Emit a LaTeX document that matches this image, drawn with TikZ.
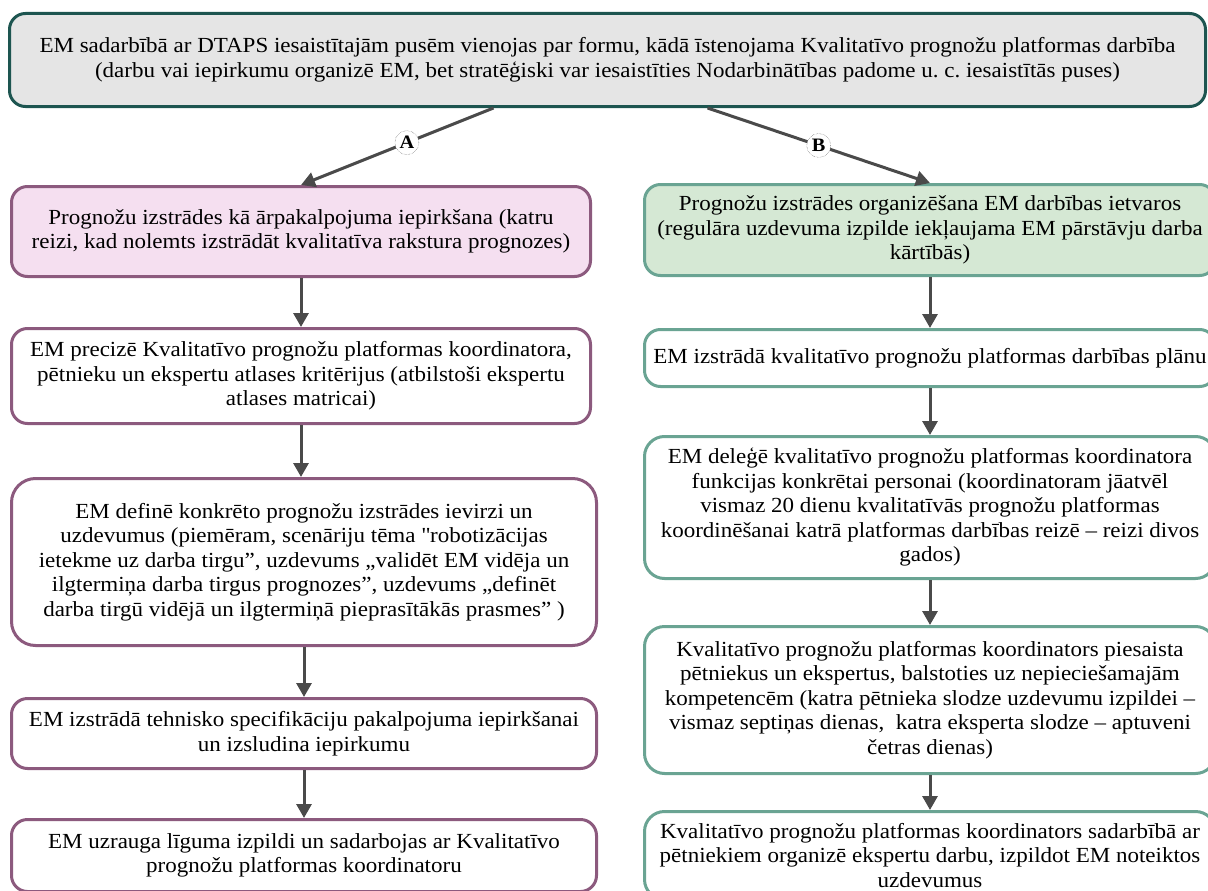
\documentclass[tikz,border=0pt]{standalone}
\usepackage{fontspec}
\setmainfont{Liberation Serif}[FakeStretch=1.07]
\usetikzlibrary{positioning,arrows.meta}
\frenchspacing
\definecolor{topfill}{HTML}{E5E5E5}
\definecolor{topdraw}{HTML}{1D5550}
\definecolor{leftfill}{HTML}{F5DFF0}
\definecolor{leftdraw}{HTML}{8C5A7E}
\definecolor{rightfill}{HTML}{D5E8D4}
\definecolor{rightdraw}{HTML}{6AA493}
\definecolor{arrowgray}{HTML}{4A4A4A}
\tikzset{
    base-box/.style = {rectangle, rounded corners=16pt, line width=3pt, align=center, inner sep=2pt, font=\fontsize{21.5}{24.5}\selectfont},
    top-box/.style = {base-box, draw=topdraw, fill=topfill},
    left-box/.style = {base-box, draw=leftdraw, fill=white, minimum width=579pt},
    left-head/.style = {left-box, fill=leftfill},
    right-box/.style = {base-box, draw=rightdraw, fill=white, minimum width=571pt},
    right-head/.style = {right-box, fill=rightfill},
    flow-arrow/.style = {draw=arrowgray, line width=3pt, -{Triangle[length=14pt,width=15pt]}},
    branch-label/.style = {circle, draw=arrowgray, densely dotted, thin, fill=white, inner sep=1pt, minimum size=24pt, font=\bfseries\fontsize{19}{19}\selectfont},
}

\begin{document}
\begin{tikzpicture}[x=1pt, y=1pt]
\useasboundingbox (0,0) rectangle (1208,-891);
\clip (0,0) rectangle (1208,-891);
\node [top-box, minimum width=1196pt, minimum height=93pt] (top) at (607.5,-60) {EM sadarbībā ar DTAPS iesaistītajām pusēm vienojas par formu, kādā īstenojama Kvalitatīvo prognožu platformas darbība\\(darbu vai iepirkumu organizē EM, bet stratēģiski var iesaistīties Nodarbinātības padome u. c. iesaistītās puses)};

% A: iepirkums
\node [left-head, minimum height=90pt] (a1) at (301,-231.5) {Prognožu izstrādes kā ārpakalpojuma iepirkšana (katru\\reizi, kad nolemts izstrādāt kvalitatīva rakstura prognozes)};
\node [left-box, minimum height=95pt, below=49pt of a1] (a2) {EM precizē Kvalitatīvo prognožu platformas koordinatora,\\pētnieku un ekspertu atlases kritērijus (atbilstoši ekspertu\\atlases matricai)};
\node [left-box, minimum width=585pt, minimum height=167pt, rounded corners=24pt, below=52pt of a2, xshift=3pt] (a3) {EM definē konkrēto prognožu izstrādes ievirzi un\\uzdevumus (piemēram, scenāriju tēma \textquotedbl robotizācijas\\ietekme uz darba tirgu”, uzdevums „validēt EM vidēja un\\ilgtermiņa darba tirgus prognozes”, uzdevums „definēt\\darba tirgū vidējā un ilgtermiņā pieprasītākās prasmes” )};
\node [left-box, minimum width=585pt, minimum height=70pt, below=50pt of a3] (a4) {EM izstrādā tehnisko specifikāciju pakalpojuma iepirkšanai\\un izsludina iepirkumu};
\node [left-box, minimum width=585pt, minimum height=72pt, below=48pt of a4] (a5) {EM uzrauga līguma izpildi un sadarbojas ar Kvalitatīvo\\prognožu platformas koordinatoru};

% B: EM ietvaros
\node [right-head, minimum height=91pt] (b1) at (930,-230) {Prognožu izstrādes organizēšana EM darbības ietvaros\\(regulāra uzdevuma izpilde iekļaujama EM pārstāvju darba\\kārtībās)};
\node [right-box, minimum height=57pt, below=51pt of b1] (b2) {EM izstrādā kvalitatīvo prognožu platformas darbības plānu};
\node [right-box, minimum height=142pt, rounded corners=20pt, below=47pt of b2] (b3) {EM deleģē kvalitatīvo prognožu platformas koordinatora\\funkcijas konkrētai personai (koordinatoram jāatvēl\\vismaz 20 dienu kvalitatīvās prognožu platformas\\koordinēšanai katrā platformas darbības reizē – reizi divos\\gados)};
\node [right-box, minimum height=147pt, rounded corners=20pt, below=45pt of b3] (b4) {Kvalitatīvo prognožu platformas koordinators piesaista\\pētniekus un ekspertus, balstoties uz nepieciešamajām\\kompetencēm (katra pētnieka slodze uzdevumu izpildei –\\vismaz septiņas dienas,\ \ katra eksperta slodze – aptuveni\\četras dienas)};
\node [right-box, minimum height=88pt, rounded corners=20pt, below=35pt of b4] (b5) {Kvalitatīvo prognožu platformas koordinators sadarbībā ar\\pētniekiem organizē ekspertu darbu, izpildot EM noteiktos\\uzdevumus};

\draw [flow-arrow] ([xshift=-114pt]top.south) -- node [branch-label, pos=0.45] {A} (a1.north);
\draw [flow-arrow] ([xshift=100pt]top.south) -- node [branch-label, pos=0.5] {B} (b1.north);
\foreach \from/\to in {a1/a2, a2/a3, a3/a4, a4/a5, b1/b2, b2/b3, b3/b4, b4/b5}
    \draw [flow-arrow] (\from.south) -- (\from.south |- \to.north);
\end{tikzpicture}
\end{document}
